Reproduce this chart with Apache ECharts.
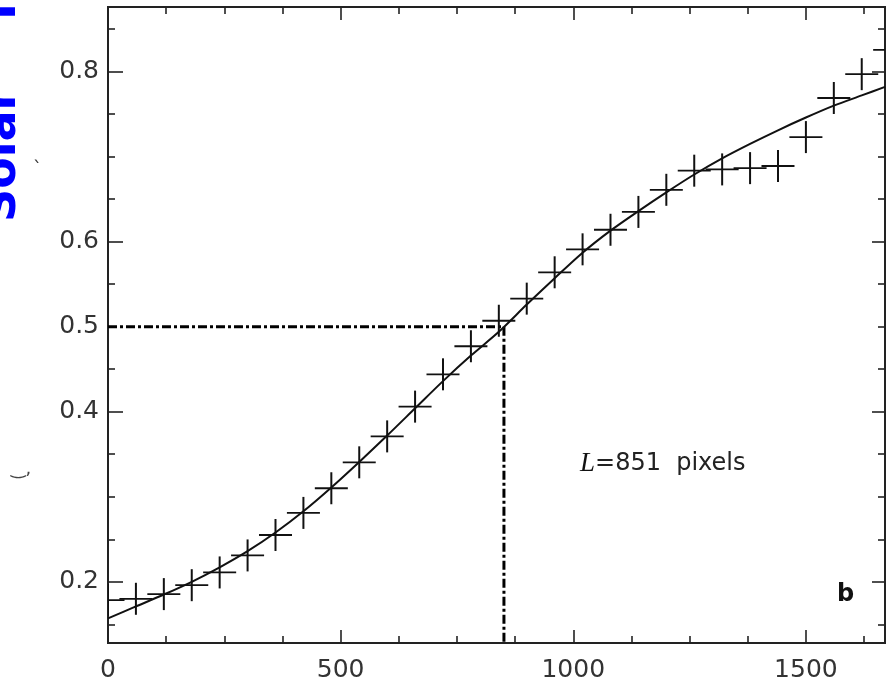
<!DOCTYPE html>
<html><head><meta charset="utf-8">
<script src="https://cdn.jsdelivr.net/npm/echarts@6/dist/echarts.min.js"></script>
<style>html,body{margin:0;padding:0;background:#fff}#c{width:890px;height:688px}</style>
</head><body><div id="c"></div>
<script>
// ---- data ----
const pointX = [0,60,120,180,240,300,360,420,480,540,600,660,720,780,840,900,960,1020,1080,1140,1200,1260,1320,1380,1440,1500,1560,1620,1680];
const pointY = [0.1785,0.180,0.1855,0.196,0.211,0.231,0.255,0.281,0.310,0.3405,0.371,0.406,0.444,0.477,0.507,0.533,0.564,0.591,0.614,0.635,0.661,0.6835,0.685,0.6865,0.689,0.723,0.769,0.797,0.8255];
const curveX = [0,60,120,180,240,300,360,420,480,540,600,660,720,780,840,900,960,1020,1080,1140,1200,1260,1320,1380,1440,1500,1560,1620,1670];
const curveY = [0.157,0.171,0.185,0.200,0.217,0.236,0.258,0.283,0.311,0.341,0.372,0.404,0.436,0.466,0.494,0.526,0.557,0.587,0.613,0.636,0.658,0.679,0.698,0.715,0.731,0.746,0.760,0.772,0.782];
const xTickLabels = [0,500,1000,1500];
const xMinorTicks = [125,250,375,625,750,875,1125,1250,1375,1625];
const yTickLabels = [0.2,0.4,0.5,0.6,0.8];
const yMajorTicks = [0.2,0.4,0.6,0.8];
const yMinorTicks = [0.15,0.25,0.3,0.35,0.45,0.5,0.55,0.65,0.7,0.75,0.85];
const L_VALUE = 851;
const HALF = 0.5;
const X_MIN = 0, X_MAX = 1670, Y_MIN = 0.128, Y_MAX = 0.876;

const AX = '#222', TXT = '#333';
const labelFont = {fontFamily:'DejaVu Sans', fontSize:25, color:TXT};

function xAx(pos, ticks, len, showLabel){
  return {type:'value', position:pos, min:X_MIN, max:X_MAX,
    axisLine:{show:true, onZero:false, lineStyle:{color:AX, width:2}},
    axisTick:{show:true, inside:true, length:len, customValues:ticks, lineStyle:{color:AX, width:1.6}},
    axisLabel:Object.assign({show:showLabel, margin:15, customValues:xTickLabels, formatter:v=>String(Math.round(v))}, labelFont),
    splitLine:{show:false}};
}
function yAx(pos, ticks, len, showLabel){
  return {type:'value', position:pos, min:Y_MIN, max:Y_MAX,
    axisLine:{show:true, onZero:false, lineStyle:{color:AX, width:2}},
    axisTick:{show:true, inside:true, length:len, customValues:ticks, lineStyle:{color:AX, width:1.6}},
    axisLabel:Object.assign({show:showLabel, margin:9, customValues:yTickLabels, formatter:v=>(Math.round(v*10)/10).toFixed(1)}, labelFont),
    splitLine:{show:false}};
}

const chart = echarts.init(document.getElementById('c'), null, {renderer:'canvas'});
chart.setOption({
  backgroundColor:'#fff',
  animation:false,
  grid:{left:108, right:5, top:7, bottom:45},
  xAxis:[xAx('bottom', xTickLabels, 13, true), xAx('bottom', xMinorTicks, 7, false),
         xAx('top', xTickLabels, 13, false), xAx('top', xMinorTicks, 7, false)],
  yAxis:[yAx('left', yMajorTicks, 15, true), yAx('left', yMinorTicks, 7, false),
         yAx('right', yMajorTicks, 13, false), yAx('right', yMinorTicks, 7, false)],
  series:[
    {type:'line', xAxisIndex:0, yAxisIndex:0, symbol:'none', smooth:0.3,
     data:curveX.map((x,i)=>[x,curveY[i]]), lineStyle:{color:'#111', width:2}, z:3},
    {type:'line', xAxisIndex:0, yAxisIndex:0, symbol:'none',
     data:[[X_MIN,HALF],[L_VALUE,HALF],[L_VALUE,Y_MIN]],
     lineStyle:{color:'#000', width:3, type:[9,3,3,3]}, z:2},
    {type:'custom', xAxisIndex:0, yAxisIndex:0, clip:true,
     data:pointX.map((x,i)=>[x,pointY[i]]),
     renderItem:function(params, api){
       const p = api.coord([api.value(0), api.value(1)]);
       return {type:'group', children:[
         {type:'line', shape:{x1:p[0]-16.5, y1:p[1], x2:p[0]+16.5, y2:p[1]}, style:{stroke:'#111', lineWidth:1.8}},
         {type:'line', shape:{x1:p[0], y1:p[1]-16, x2:p[0], y2:p[1]+16}, style:{stroke:'#111', lineWidth:2}}
       ]};
     }, z:4}
  ],
  graphic:[
    {type:'text', left:580, top:450, style:{
      text:'{i|L}{n|=851  pixels}',
      rich:{i:{fontFamily:'Liberation Serif', fontStyle:'italic', fontSize:27, fill:'#111'},
            n:{fontFamily:'DejaVu Sans', fontSize:24, fill:'#222'}}}},
    {type:'text', left:837, top:583, style:{text:'b', font:'bold 24px "DejaVu Sans"', fill:'#111'}},
    {type:'text', x:26, y:222, rotation:Math.PI/2, style:{text:'Solar', font:'bold 46px "DejaVu Sans"', fill:'#0000ff', align:'left', verticalAlign:'bottom'}},
    {type:'text', x:26, y:20, rotation:Math.PI/2, style:{text:'I', font:'bold 46px "DejaVu Sans"', fill:'#0000ff', align:'left', verticalAlign:'bottom'}},
    {type:'text', left:33, top:160, style:{text:'`', font:'18px "DejaVu Sans"', fill:'#333'}},
    {type:'text', left:11, top:460, style:{text:'\u203F,', font:'18px "DejaVu Sans"', fill:'#444'}}
  ]
});
</script></body></html>
